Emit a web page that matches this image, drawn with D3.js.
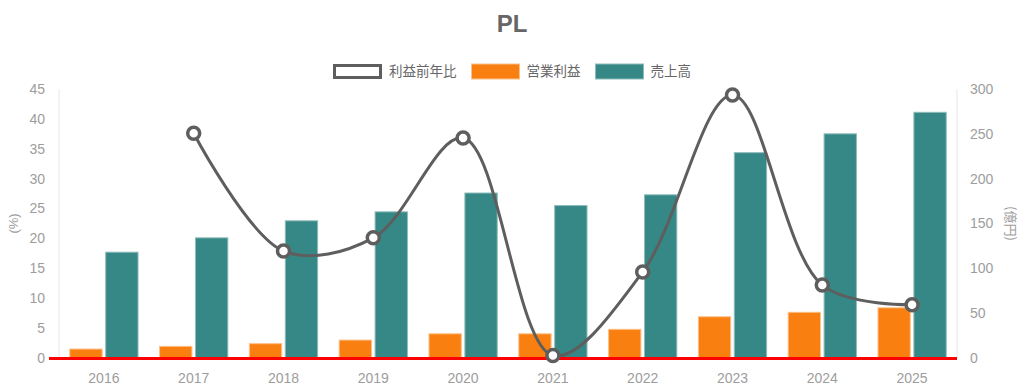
<!DOCTYPE html>
<html>
<head>
<meta charset="utf-8">
<script src="https://cdn.jsdelivr.net/npm/d3@7"></script>
<style>
  html, body { margin: 0; padding: 0; background: #fff; }
  svg { display: block; font-family: "Liberation Sans", Arial, "Noto Sans CJK JP", sans-serif; }
</style>
</head>
<body>
<div id="chart"></div>
<script>
// data
const years = ['2016', '2017', '2018', '2019', '2020', '2021', '2022', '2023', '2024', '2025'];
const sales = [118, 134, 153, 163, 184, 170, 182, 229, 250, 274];          // 売上高 (億円)
const opProfit = [10, 13, 16, 20, 27, 27, 32, 46, 51, 56];                // 営業利益 (億円)
const profitYoY = [null, 37.6, 17.9, 20.1, 36.8, 0.4, 14.4, 44.0, 12.2, 8.9]; // 利益前年比 (%)
const leftTicks = [0, 5, 10, 15, 20, 25, 30, 35, 40, 45];
const rightTicks = [0, 50, 100, 150, 200, 250, 300];
const legendItems = [
  { key: 'line', label: '利益前年比' },
  { key: 'op', label: '営業利益' },
  { key: 'sales', label: '売上高' }
];

const width = 1024, height = 392;
const plot = { left: 59, right: 957, top: 89, bottom: 358 };
const teal = '#358886', orange = '#f98010', lineColor = '#5e5e5e';
const tickColor = '#9d9d9d', textColor = '#666';
const jpFont = '"Noto Sans CJK JP", "Liberation Sans", sans-serif';

const svg = d3.select('#chart').append('svg')
  .attr('width', width)
  .attr('height', height);

let x = d3.scaleBand()
  .domain(years)
  .range([plot.left, plot.right])
  .padding(0);

let bw = x.bandwidth();
let x1 = d3.scaleBand()
  .domain(['op', 'sales'])
  .range([bw * 0.1, bw * 0.9])
  .paddingInner(0.1)
  .paddingOuter(0.05);

let yLeft = d3.scaleLinear().domain([0, 45]).range([plot.bottom, plot.top]);
let yRight = d3.scaleLinear().domain([0, 300]).range([plot.bottom, plot.top]);

// title
svg.append('text')
  .attr('x', width / 2)
  .attr('y', 32)
  .attr('text-anchor', 'middle')
  .attr('font-size', 24)
  .attr('font-weight', 'bold')
  .attr('fill', textColor)
  .text('PL');

// legend
let lg = svg.append('g');
let lx = 334;
legendItems.forEach(function(d) {
  let g = lg.append('g').attr('transform', 'translate(' + lx + ',64)');
  if (d.key === 'line') {
    g.append('rect')
      .attr('x', 0.5).attr('y', 1.5)
      .attr('width', 46).attr('height', 12)
      .attr('fill', '#fff')
      .attr('stroke', lineColor)
      .attr('stroke-width', 3);
  } else {
    g.append('rect')
      .attr('x', 0).attr('y', 0)
      .attr('width', 48).attr('height', 15)
      .attr('fill', d.key === 'op' ? orange : teal)
      .attr('stroke', d.key === 'op' ? '#fcc08a' : '#8dbcba')
      .attr('stroke-width', 1);
  }
  let t = g.append('text')
    .attr('x', 55)
    .attr('y', 12)
    .attr('font-size', 13.5)
    .attr('font-family', jpFont)
    .attr('fill', textColor)
    .text(d.label);
  lx += 55 + t.node().getComputedTextLength() + 15;
});

// axis lines (vertical)
svg.append('line')
  .attr('x1', plot.left).attr('x2', plot.left)
  .attr('y1', plot.top).attr('y2', plot.bottom)
  .attr('stroke', '#e6e6e6');
svg.append('line')
  .attr('x1', plot.right).attr('x2', plot.right)
  .attr('y1', plot.top).attr('y2', plot.bottom)
  .attr('stroke', '#e6e6e6');

// left ticks
svg.append('g').selectAll('text')
  .data(leftTicks)
  .join('text')
  .attr('x', 45)
  .attr('y', d => yLeft(d))
  .attr('dy', '0.35em')
  .attr('text-anchor', 'end')
  .attr('font-size', 14)
  .attr('fill', tickColor)
  .text(d => d);

// right ticks
svg.append('g').selectAll('text')
  .data(rightTicks)
  .join('text')
  .attr('x', 970)
  .attr('y', d => yRight(d))
  .attr('dy', '0.35em')
  .attr('text-anchor', 'start')
  .attr('font-size', 14)
  .attr('fill', tickColor)
  .text(d => d);

// axis titles
let midY = (plot.top + plot.bottom) / 2;
svg.append('text')
  .attr('transform', 'translate(13,' + midY + ') rotate(-90)')
  .attr('text-anchor', 'middle')
  .attr('dy', '0.35em')
  .attr('font-size', 13)
  .attr('fill', tickColor)
  .text('(%)');
svg.append('text')
  .attr('transform', 'translate(1011,' + midY + ') rotate(90)')
  .attr('text-anchor', 'middle')
  .attr('dy', '0.35em')
  .attr('font-size', 13)
  .attr('font-family', jpFont)
  .attr('fill', tickColor)
  .text('(億円)');

// x labels
svg.append('g').selectAll('text')
  .data(years)
  .join('text')
  .attr('x', d => x(d) + bw / 2)
  .attr('y', 383)
  .attr('text-anchor', 'middle')
  .attr('font-size', 14)
  .attr('fill', tickColor)
  .text(d => d);

// bars
let bars = svg.append('g');
bars.selectAll('rect.op')
  .data(years)
  .join('rect')
  .attr('class', 'op')
  .attr('x', d => x(d) + x1('op'))
  .attr('y', (d, i) => yRight(opProfit[i]))
  .attr('width', x1.bandwidth())
  .attr('height', (d, i) => yRight(0) - yRight(opProfit[i]))
  .attr('fill', orange)
  .attr('stroke', '#fcc08a')
  .attr('stroke-width', 1);

bars.selectAll('rect.sales')
  .data(years)
  .join('rect')
  .attr('class', 'sales')
  .attr('x', d => x(d) + x1('sales'))
  .attr('y', (d, i) => yRight(sales[i]))
  .attr('width', x1.bandwidth())
  .attr('height', (d, i) => yRight(0) - yRight(sales[i]))
  .attr('fill', teal)
  .attr('stroke', '#8dbcba')
  .attr('stroke-width', 1);

// zero line (red)
svg.append('line')
  .attr('x1', 49).attr('x2', plot.right)
  .attr('y1', yLeft(0) + 0.5).attr('y2', yLeft(0) + 0.5)
  .attr('stroke', '#ff0000')
  .attr('stroke-width', 3);

// line series
let pts = years.map((d, i) => ({ x: x(d) + bw / 2, v: profitYoY[i] }))
  .filter(d => d.v !== null);

let line = d3.line()
  .x(d => d.x)
  .y(d => yLeft(d.v))
  .curve(d3.curveCatmullRom.alpha(0.5));

svg.append('path')
  .datum(pts)
  .attr('d', line)
  .attr('fill', 'none')
  .attr('stroke', lineColor)
  .attr('stroke-width', 3);

svg.append('g').selectAll('circle')
  .data(pts)
  .join('circle')
  .attr('cx', d => d.x)
  .attr('cy', d => yLeft(d.v))
  .attr('r', 6)
  .attr('fill', '#fff')
  .attr('stroke', lineColor)
  .attr('stroke-width', 3.5);
</script>
</body>
</html>
